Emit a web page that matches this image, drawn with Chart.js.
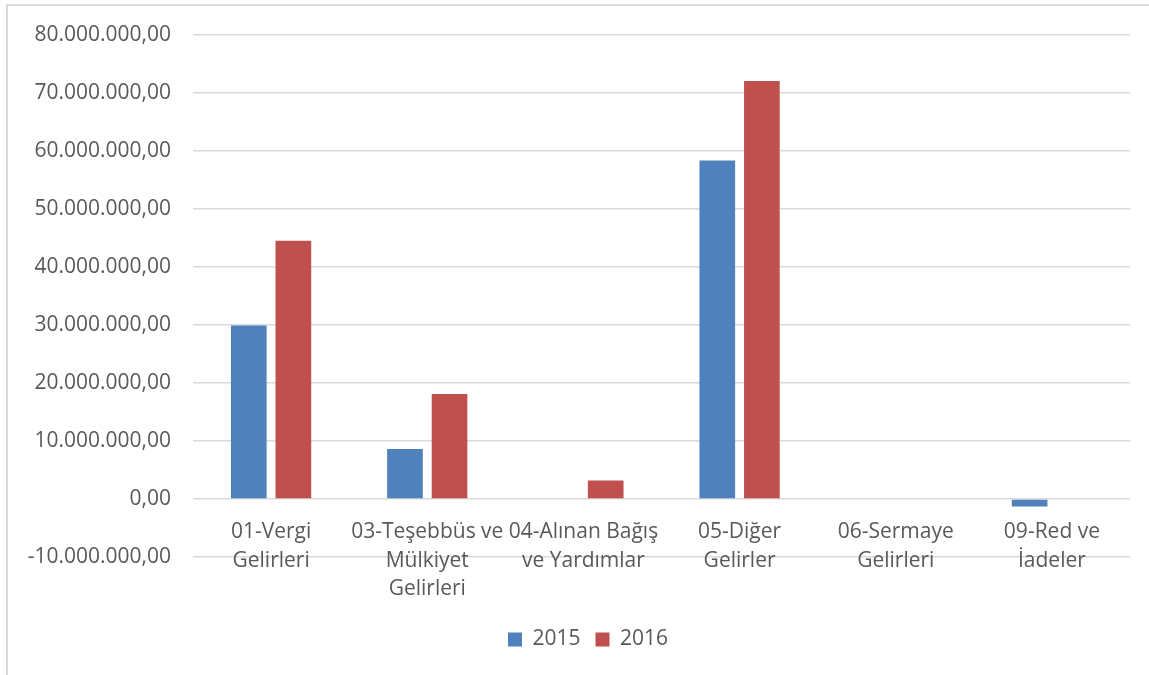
<!DOCTYPE html>
<html>
<head>
<meta charset="utf-8">
<script src="https://cdn.jsdelivr.net/npm/chart.js@4"></script>
<style>
    body { margin: 0; background: #fff; }
    #frame {
        position: absolute; left: 6px; top: 4px;
        width: 1200px; height: 700px;
        border-left: 2px solid #d9d9d9; border-top: 2px solid #d9d9d9;
    }
    #gelirler { position: absolute; left: 0; top: 0; }
</style>
</head>
<body>
<div id="frame"></div>
<canvas id="gelirler" width="1149" height="675"></canvas>
<script>
const categories = [
    ['01-Vergi', 'Gelirleri'],
    ['03-Teşebbüs ve', 'Mülkiyet', 'Gelirleri'],
    ['04-Alınan Bağış', 've Yardımlar'],
    ['05-Diğer', 'Gelirler'],
    ['06-Sermaye', 'Gelirleri'],
    ['09-Red ve', 'İadeler'],
];
const seriesNames = ['2015', '2016'];
const values2015 = [29900000, 8600000, 0, 58300000, 0, -1300000];
const values2016 = [44500000, 18100000, 3200000, 72000000, 0, 0];
const yTicks = { min: -10000000, max: 80000000, step: 10000000 };

// 80000000 -> "80.000.000,00"
function trNumber(v) {
    const s = Math.abs(Math.round(v)).toString().replace(/\B(?=(\d{3})+(?!\d))/g, '.');
    return (v < 0 ? '-' : '') + s + ',00';
}

// Excel centres the legend a bit right of the canvas middle
const legendShift = {
    id: 'legendShift',
    afterLayout(chart) {
        chart.legend.left += 23;
        chart.legend.right += 23;
    }
};

Chart.defaults.font.family = "'Open Sans', sans-serif";
Chart.defaults.color = '#595959';

new Chart(document.getElementById('gelirler'), {
    type: 'bar',
    data: {
        labels: categories,
        datasets: [
            {
                label: seriesNames[0],
                data: values2015,
                backgroundColor: '#4f81bd',
                borderWidth: 0,
                categoryPercentage: 0.571,
                barPercentage: 0.8,
            },
            {
                label: seriesNames[1],
                data: values2016,
                backgroundColor: '#c0504d',
                borderWidth: 0,
                categoryPercentage: 0.571,
                barPercentage: 0.8,
            },
        ]
    },
    plugins: [legendShift],
    options: {
        responsive: false,
        animation: false,
        layout: {
            padding: { left: 0, right: 19, top: 34, bottom: 15 }
        },
        plugins: {
            tooltip: { enabled: false },
            legend: {
                position: 'bottom',
                labels: {
                    boxWidth: 14,
                    boxHeight: 14,
                    padding: 15,
                    font: { size: 21 },
                    color: '#595959',
                }
            }
        },
        scales: {
            // labels hang just under the zero line, like Excel
            x: {
                position: { y: 0 },
                grid: { display: false, drawTicks: false },
                border: { display: false },
                ticks: {
                    autoSkip: false,
                    maxRotation: 0,
                    minRotation: 0,
                    padding: 19,
                    font: { size: 21, lineHeight: 1.36 },
                    color: '#595959',
                }
            },
            // empty axis, only keeps room between plot and legend
            xSpace: {
                type: 'category',
                position: 'bottom',
                grid: { display: false, drawTicks: false },
                border: { display: false },
                ticks: { display: false },
                afterFit: function (scale) {
                    scale.height = 57;
                }
            },
            y: {
                min: yTicks.min,
                max: yTicks.max,
                border: { display: false },
                grid: {
                    color: '#d9d9d9',
                    lineWidth: 1.5,
                    drawTicks: false,
                },
                ticks: {
                    stepSize: yTicks.step,
                    padding: 22,
                    font: { size: 21 },
                    color: '#595959',
                    callback: function (value) {
                        return trNumber(value);
                    }
                },
                afterFit: function (scale) {
                    scale.width = 193;
                }
            }
        }
    }
});
</script>
</body>
</html>
